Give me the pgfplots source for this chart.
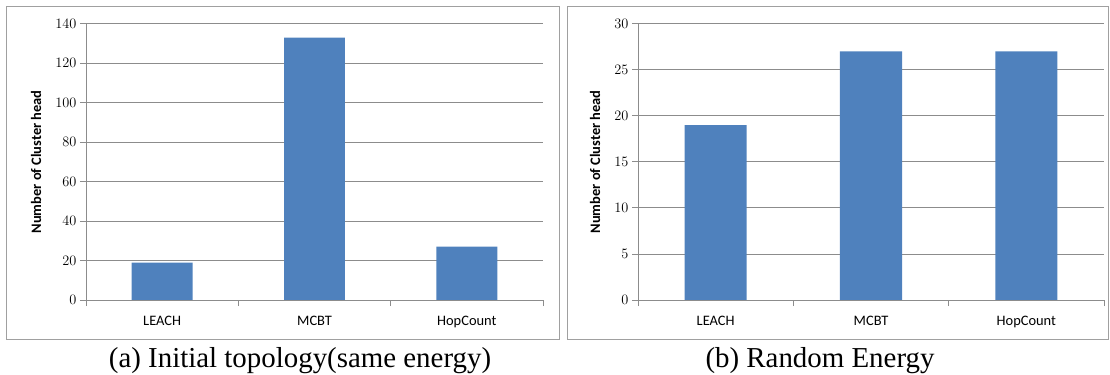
\documentclass[border=0pt]{standalone}
\usepackage{pgfplots}
\pgfplotsset{compat=1.18}
\usepackage{fontspec}
\setmainfont{Liberation Serif}
\newfontfamily\calibri{Carlito}
\definecolor{barblue}{HTML}{4F81BD}
\definecolor{gridgray}{HTML}{8C8C8C}
\definecolor{boxgray}{HTML}{A0A0A0}
\pgfplotsset{
 mystyle/.style={
  scale only axis, height=276.3bp,
  ybar, bar width=0.4,
  xmin=-0.5, xmax=2.5,
  xtick={0,1,2}, xticklabels={LEACH,MCBT,HopCount},
  major x tick style={draw=none},
  minor xtick={-0.5,0.5,1.5,2.5},
  ymin=0,
  axis x line*=bottom, axis y line*=left,
  axis line style={gridgray, line width=0.9pt, -},
  ymajorgrids, grid style={gridgray, line width=0.9pt},
  tick align=outside,
  major tick length=6bp, minor tick length=6bp,
  tick style={gridgray, line width=0.9pt},
  yticklabel style={font=\calibri\fontsize{15}{17}\selectfont, text=black},
  xticklabel style={font=\calibri\fontsize{14.5}{17}\selectfont, text=black, yshift=-7bp},
  ylabel={Number of Cluster head},
  ylabel style={font=\calibri\bfseries\fontsize{14.5}{16}\selectfont, anchor=center},
 }
}
\begin{document}
\begin{tikzpicture}
\useasboundingbox (0,0) rectangle (1110bp,375bp);
\draw[boxgray, line width=1pt] (6bp,36bp) rectangle (559bp,368bp);
\draw[boxgray, line width=1pt] (567bp,36bp) rectangle (1108bp,368bp);
\begin{axis}[mystyle, width=457bp, at={(86bp,75bp)}, anchor=south west,
  ymax=140, ytick={0,20,...,140},
  ylabel style={at={(axis description cs:-0.109,0.5)}}]
\addplot[fill=barblue, draw=none] coordinates {(0,19) (1,133) (2,27)};
\end{axis}
\begin{axis}[mystyle, width=466bp, at={(638bp,75bp)}, anchor=south west,
  ymax=30, ytick={0,5,...,30},
  ylabel style={at={(axis description cs:-0.092,0.5)}}]
\addplot[fill=barblue, draw=none] coordinates {(0,19) (1,27) (2,27)};
\end{axis}
\node[font=\fontsize{29}{33}\selectfont, anchor=base] at (300bp,7.5bp) {(a) Initial topology(same energy)};
\node[font=\fontsize{29}{33}\selectfont, anchor=base] at (820bp,7.5bp) {(b) Random Energy};
\end{tikzpicture}
\end{document}
